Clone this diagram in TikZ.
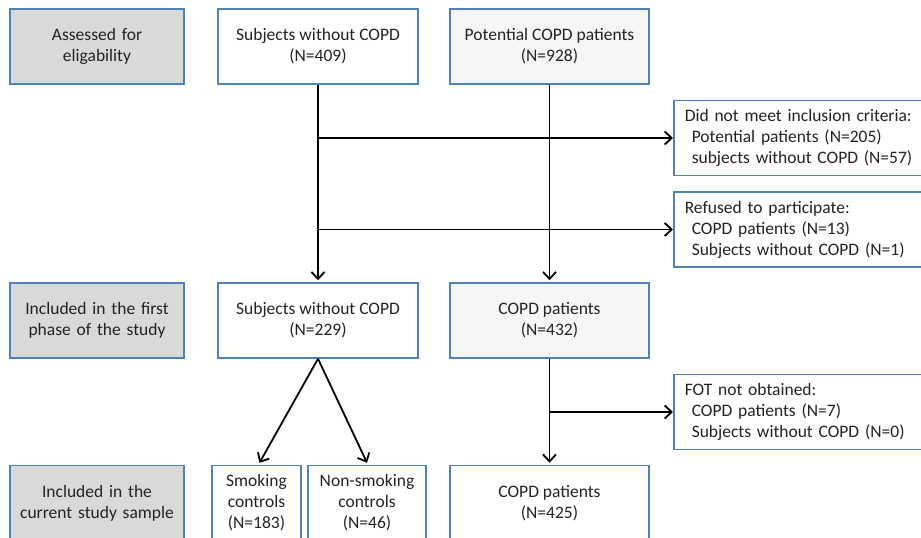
\documentclass[tikz,border=0pt]{standalone}
\usepackage{fontspec}
\setmainfont{Carlito}
\usetikzlibrary{arrows.meta,calc,positioning}

\definecolor{boxblue}{RGB}{79,129,189}
\definecolor{txtgray}{RGB}{35,35,35}

\tikzset{
  box/.style={draw=boxblue, line width=1.5pt, align=center, text=txtgray,
    minimum height=75pt, inner sep=2pt, font=\fontsize{17.5}{21}\selectfont},
  stagebox/.style={box, fill=gray!30, minimum width=174pt, text width=168pt},
  countbox/.style={box, fill=white, minimum width=200pt},
  copdbox/.style={box, fill=gray!7, minimum width=199pt},
  sidebox/.style={box, fill=white, align=left, anchor=west, minimum width=262pt,
    text width=250pt, inner xsep=11pt, inner ysep=6pt},
  flow/.style={line width=1.8pt, -{Straight Barb[length=7pt,width=13pt,line width=1.8pt]}}
}

\begin{document}
\begin{tikzpicture}[x=1pt, y=-1pt]
			\useasboundingbox (0,0) rectangle (921,538);
			\clip (0,0) rectangle (921,538);

			% stages on the left
			\node[stagebox] (assess) at (97, 46.5) {Assessed for\\eligability};
			\node[stagebox] (phase1) at (97, 320.5) {Included in the first\\phase of the study};
			\node[stagebox] (sample) at (97, 503) {Included in the\\current study sample};

			% subjects without COPD
			\node[countbox] (nocopdA) at (318, 46.5) {Subjects without COPD\\(N=409)};
			\node[countbox] (nocopdB) at (318, 320.5) {Subjects without COPD\\(N=229)};
			\node[box, minimum width=89pt] (smoke) at (256.5, 503) {Smoking\\controls\\(N=183)};
			\node[box, minimum width=118pt] (nonsmoke) at (367, 503) {Non-smoking\\controls\\(N=46)};

			% COPD patients
			\node[copdbox] (potential) at (549.5, 46.5) {Potential COPD patients\\(N=928)};
			\node[copdbox] (copdA) at (549.5, 320.5) {COPD patients\\(N=432)};
			\node[countbox, minimum width=199pt] (copdB) at (549.5, 503) {COPD patients\\(N=425)};

			% exclusions
			\node[sidebox] (notmet) at (673, 138) {Did not meet inclusion criteria:\\
				\hspace*{7pt}Potential patients (N=205)\\
				\hspace*{7pt}subjects without COPD (N=57)};
			\node[sidebox] (refused) at (673, 229.5) {Refused to participate:\\
				\hspace*{7pt}COPD patients (N=13)\\
				\hspace*{7pt}Subjects without COPD (N=1)};
			\node[sidebox] (fot) at (673, 412) {FOT not obtained:\\
				\hspace*{7pt}COPD patients (N=7)\\
				\hspace*{7pt}Subjects without COPD (N=0)};

			% connectors
			\draw[flow] (nocopdA.south) -- ($(nocopdB.north)+(0,-2)$);
			\draw[flow] (potential.south) -- ($(copdA.north)+(0,-2)$);
			\draw[flow] (nocopdA.south |- notmet.west) -- (notmet.west);
			\draw[flow] (nocopdA.south |- refused.west) -- (refused.west);
			\draw[flow] (copdA.south) -- ($(copdB.north)+(0,-2)$);
			\draw[flow] (copdA.south |- fot.west) -- (fot.west);
			\draw[flow] (nocopdB.south) -- ($(smoke.north)+(3,-2)$);
			\draw[flow] (nocopdB.south) -- ($(nonsmoke.north)+(0,-2)$);
\end{tikzpicture}
\end{document}
